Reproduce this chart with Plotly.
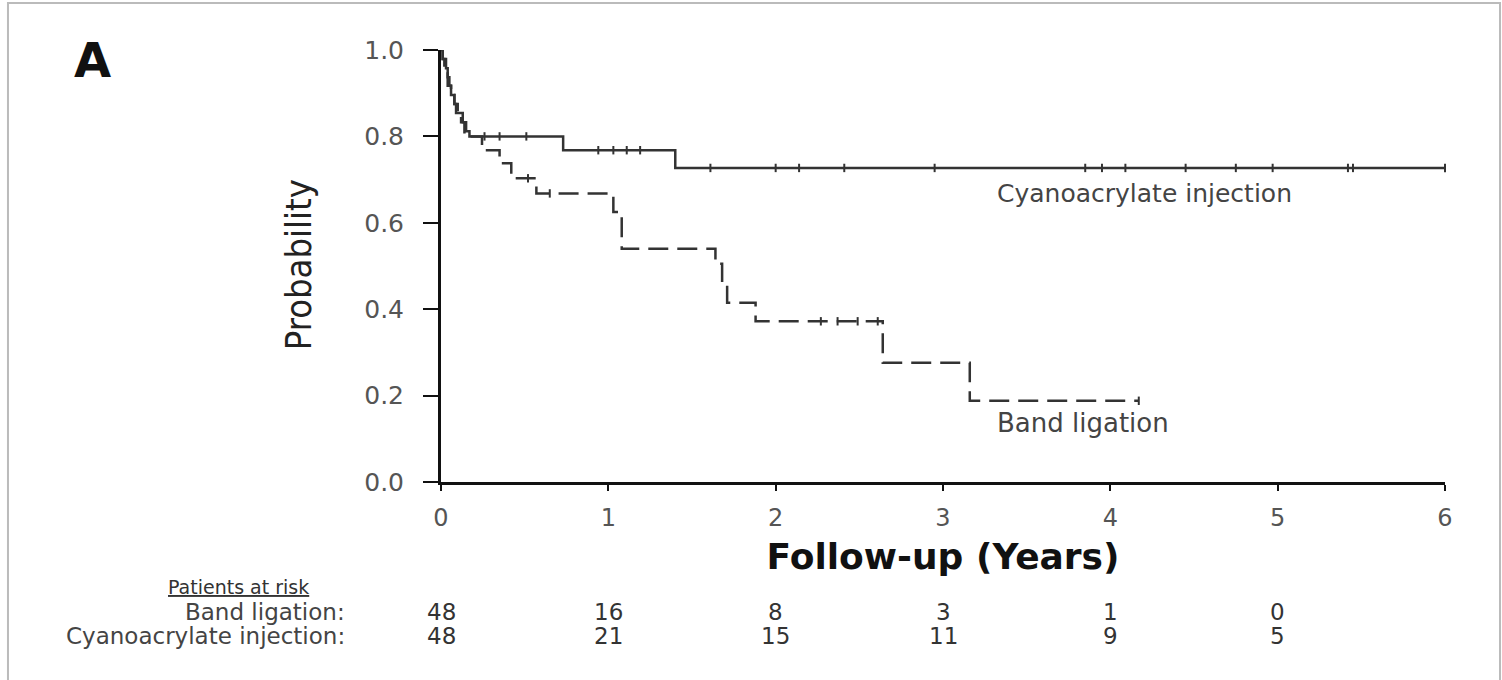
import plotly.graph_objects as go

# ---- data ----
cyano_time = [0, 0.01, 0.03, 0.04, 0.05, 0.06, 0.08, 0.09, 0.13, 0.15, 0.17, 0.73, 1.40, 6.0]
cyano_surv = [1.0, 0.979, 0.958, 0.937, 0.917, 0.896, 0.875, 0.854, 0.833, 0.812, 0.80, 0.768, 0.727, 0.727]

band_time = [0, 0.01, 0.02, 0.04, 0.06, 0.08, 0.10, 0.12, 0.14, 0.245, 0.35, 0.42, 0.57,
             1.03, 1.08, 1.64, 1.68, 1.71, 1.88, 2.64, 3.16, 4.17]
band_surv = [1.0, 0.979, 0.958, 0.917, 0.896, 0.875, 0.854, 0.833, 0.80, 0.768, 0.738, 0.703, 0.668,
             0.625, 0.54, 0.505, 0.46, 0.415, 0.372, 0.276, 0.188, 0.188]

cyano_cens_time = [0.26, 0.35, 0.51, 0.94, 1.03, 1.11, 1.19, 1.61, 2.00, 2.14, 2.41, 2.95,
                   3.85, 3.95, 4.09, 4.45, 4.75, 4.97, 5.42, 5.45, 6.0]
cyano_cens_surv = [0.80, 0.80, 0.80, 0.768, 0.768, 0.768, 0.768, 0.727, 0.727, 0.727, 0.727, 0.727,
                   0.727, 0.727, 0.727, 0.727, 0.727, 0.727, 0.727, 0.727, 0.727]

band_cens_time = [0.52, 0.65, 2.27, 2.37, 2.49, 2.61, 4.17]
band_cens_surv = [0.703, 0.668, 0.372, 0.372, 0.372, 0.372, 0.188]

risk_times = [0, 1, 2, 3, 4, 5]
band_risk = [48, 16, 8, 3, 1, 0]
cyano_risk = [48, 21, 15, 11, 9, 5]

x_ticks = [0, 1, 2, 3, 4, 5, 6]
y_ticks = [0.0, 0.2, 0.4, 0.6, 0.8, 1.0]

series_labels = ["Cyanoacrylate injection", "Band ligation"]
risk_labels = ["Band ligation:", "Cyanoacrylate injection:"]

LINE = "#333333"
TXT = "#444444"
FONT = "DejaVu Sans"

fig = go.Figure()

fig.add_trace(go.Scatter(x=cyano_time, y=cyano_surv, mode="lines", line_shape="hv",
                         line=dict(color=LINE, width=2.5), showlegend=False, cliponaxis=False))
fig.add_trace(go.Scatter(x=band_time, y=band_surv, mode="lines", line_shape="hv",
                         line=dict(color=LINE, width=2.5, dash="20px,9px"), showlegend=False,
                         cliponaxis=False))
fig.add_trace(go.Scatter(x=cyano_cens_time, y=cyano_cens_surv, mode="markers",
                         marker=dict(symbol="line-ns", size=6, line=dict(color=LINE, width=2)),
                         showlegend=False, cliponaxis=False))
fig.add_trace(go.Scatter(x=band_cens_time, y=band_cens_surv, mode="markers",
                         marker=dict(symbol="line-ns", size=6, line=dict(color=LINE, width=2)),
                         showlegend=False, cliponaxis=False))

# curve labels
fig.add_annotation(x=3.31, y=0.668, text=series_labels[0], showarrow=False, xanchor="left",
                   yanchor="middle", font=dict(family=FONT, size=25, color=TXT))
fig.add_annotation(x=3.31, y=0.137, text=series_labels[1], showarrow=False, xanchor="left",
                   yanchor="middle", font=dict(family=FONT, size=26, color=TXT))

# panel letter
fig.add_annotation(xref="paper", yref="paper", x=-0.3476, y=0.977, text="<b>A</b>",
                   xanchor="center", yanchor="middle",
                   showarrow=False, font=dict(family=FONT, size=48, color="#111111"))

# y-axis title
fig.add_annotation(xref="paper", yref="paper", x=-0.1424, y=0.502, text="Probability",
                   textangle=-90, showarrow=False, xanchor="center", yanchor="middle",
                   font=dict(family="DejaVu Sans Condensed, Liberation Sans", size=36, color="#222222"))

# patients at risk table
fig.add_annotation(xref="paper", yref="paper", x=-0.202, y=-0.243, text="Patients at risk",
                   showarrow=False, xanchor="center", yanchor="middle",
                   font=dict(family=FONT, size=19, color="#333333", lineposition="under"))
fig.add_annotation(xref="paper", yref="paper", x=-0.0936, y=-0.301, text=risk_labels[0],
                   showarrow=False, xanchor="right", yanchor="middle",
                   font=dict(family=FONT, size=23, color=TXT))
fig.add_annotation(xref="paper", yref="paper", x=-0.0936, y=-0.356, text=risk_labels[1],
                   showarrow=False, xanchor="right", yanchor="middle",
                   font=dict(family=FONT, size=23, color=TXT))
for t, n in zip(risk_times, band_risk):
    fig.add_annotation(x=t, xref="x", yref="paper", y=-0.301, text=str(n), showarrow=False,
                       xanchor="center", yanchor="middle",
                       font=dict(family=FONT, size=23, color="#333333"))
for t, n in zip(risk_times, cyano_risk):
    fig.add_annotation(x=t, xref="x", yref="paper", y=-0.356, text=str(n), showarrow=False,
                       xanchor="center", yanchor="middle",
                       font=dict(family=FONT, size=23, color="#333333"))

# outer frame
fig.add_shape(type="rect", xref="paper", yref="paper", x0=-0.4313, x1=1.0548, y0=-0.6, y1=1.1088,
              line=dict(color="#bbbbbb", width=2), layer="below")

fig.update_layout(
    width=1502, height=680,
    margin=dict(l=441, r=57, t=50, b=198),
    plot_bgcolor="white", paper_bgcolor="white",
    font=dict(family=FONT, color=TXT),
    xaxis=dict(range=[0, 6], tickvals=x_ticks, ticktext=[str(v) for v in x_ticks],
               showgrid=False, zeroline=False, showline=True, linecolor="#111111", linewidth=2.5,
               ticks="outside", ticklen=6, tickwidth=2, tickcolor="#111111",
               tickfont=dict(family=FONT, size=24, color="#555555"), ticklabelstandoff=6,
               title=dict(text="<b>Follow-up (Years)</b>", standoff=14,
                          font=dict(family=FONT, size=36, color="#111111"))),
    yaxis=dict(range=[0, 1], tickvals=y_ticks, ticktext=["%.1f" % v for v in y_ticks],
               showgrid=False, zeroline=False, showline=True, linecolor="#111111", linewidth=3,
               ticks="outside", ticklen=15, tickwidth=2, tickcolor="#111111",
               tickfont=dict(family=FONT, size=25, color="#555555"), ticklabelstandoff=14),
)

fig.write_html("out.html")
